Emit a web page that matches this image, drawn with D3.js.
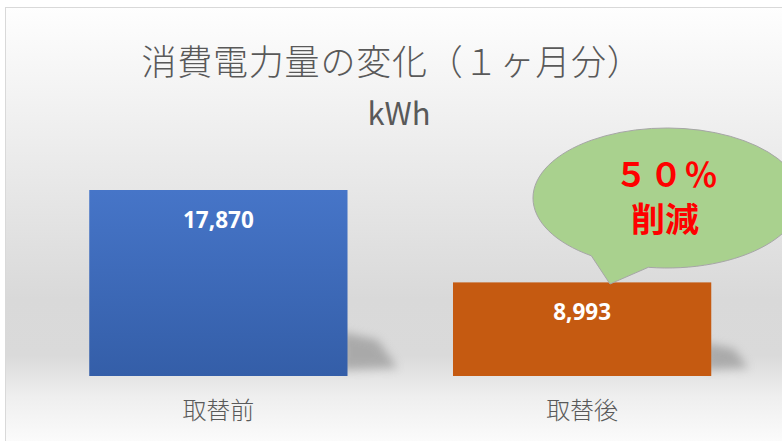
<!DOCTYPE html>
<html><head><meta charset="utf-8">
<script src="https://cdn.jsdelivr.net/npm/d3@7"></script>
<style>html,body{margin:0;padding:0;background:#fff;overflow:hidden}</style>
</head><body><svg id="c" width="782" height="441"></svg>
<script>
const categories = ["取替前", "取替後"];
const values = [17870, 8993];
const barColorsTop = ["#4675c8", "#c55a11"];
const barColorsBottom = ["#345ea8", "#c55a11"];
const title = "消費電力量の変化（１ヶ月分）";
const unitLabel = "kWh";
const calloutLines = ["５０％", "削減"];

const W = 782, H = 441;
const svg = d3.select("#c");
const defs = svg.append("defs");
const font = "'Noto Sans CJK JP','Noto Sans',sans-serif";

// background gradient (vertical)
const bg = defs.append("linearGradient").attr("id","bg")
  .attr("gradientUnits","userSpaceOnUse").attr("x1",0).attr("y1",7).attr("x2",0).attr("y2",441);
[[7,"#fefefe"],[150,"#ececec"],[300,"#d9d9d9"],[355,"#dadada"],[395,"#eeeeee"],[441,"#fbfbfb"]]
  .forEach(([yy,c])=>bg.append("stop").attr("offset",(yy-7)/434).attr("stop-color",c));
svg.append("rect").attr("width",W).attr("height",H).attr("fill","#fff");
svg.append("rect").attr("x",5.5).attr("y",7.5).attr("width",W+20).attr("height",H+20)
  .attr("fill","url(#bg)").attr("stroke","#d9d9d9").attr("stroke-width",1);

// bar gradients
categories.forEach((c,i)=>{
  const g = defs.append("linearGradient").attr("id","bar"+i).attr("x1",0).attr("y1",0).attr("x2",0).attr("y2",1);
  g.append("stop").attr("offset","0").attr("stop-color",barColorsTop[i]);
  g.append("stop").attr("offset","1").attr("stop-color",barColorsBottom[i]);
});
defs.append("filter").attr("id","blur").attr("x","-50%").attr("y","-50%").attr("width","200%").attr("height","200%")
  .append("feGaussianBlur").attr("stdDeviation",5);

const x = d3.scaleBand().domain(categories).range([36.5, 764]).paddingInner(0.29).paddingOuter(0.145);
const y = d3.scaleLinear().domain([0, 17870]).range([376, 190]);

// title
svg.append("text").attr("x",392).attr("y",75).attr("text-anchor","middle")
  .attr("font-family",font).attr("font-weight",300).attr("font-size",35).attr("letter-spacing",0.8)
  .attr("fill","#595959").text(title);
svg.append("text").attr("x",399).attr("y",125).attr("text-anchor","middle")
  .attr("font-family",font).attr("font-weight",400).attr("font-size",31).attr("fill","#595959").text(unitLabel);

// shadows
const gBars = svg.append("g");
categories.forEach((c,i)=>{
  const x1 = x(c)+x.bandwidth(), y0 = y(0);
  const s = i === 0 ? 1 : 0.75;
  gBars.append("path")
    .attr("d",`M${x1-6},${y0-6} L${x1-6},${y0-44*s} L${x1+30*s},${y0-36*s} L${x1+50*s},${y0-8} Z`)
    .attr("fill","#8a8a8a").attr("opacity",0.6).attr("filter","url(#blur)");
});
gBars.selectAll("rect.bar").data(values).join("rect").attr("class","bar")
  .attr("x",(d,i)=>x(categories[i])).attr("width",x.bandwidth())
  .attr("y",d=>y(d)).attr("height",d=>y(0)-y(d))
  .attr("fill",(d,i)=>`url(#bar${i})`);
gBars.selectAll("text.val").data(values).join("text").attr("class","val")
  .attr("x",(d,i)=>x(categories[i])+x.bandwidth()/2).attr("y",d=>y(d)+38)
  .attr("text-anchor","middle").attr("font-family","'Open Sans','Noto Sans',sans-serif")
  .attr("font-weight",700).attr("font-size",22.5).attr("fill","#fff")
  .text(d=>d3.format(",")(d));

// axis labels
const xAxis = d3.axisBottom(x).tickSize(0).tickPadding(0);
const ax = svg.append("g").attr("transform",`translate(0,${y(0)})`).call(xAxis);
ax.select(".domain").remove();
ax.selectAll("text").attr("y",43).attr("dy",0).attr("font-family",font).attr("font-weight",300)
  .attr("font-size",24).attr("fill","#595959");

// callout
const cx = 667, cy = 198, rx = 134, ry = 70;
const a1 = Math.PI/2 + 0.60, a2 = Math.PI/2 + 0.14;
const p1 = [cx + rx*Math.cos(a1), cy + ry*Math.sin(a1)];
const p2 = [cx + rx*Math.cos(a2), cy + ry*Math.sin(a2)];
const tip = [610, 284];
const path = `M${p2[0]},${p2[1]} A${rx},${ry} 0 1 0 ${p1[0]},${p1[1]} L${tip[0]},${tip[1]} Z`;
svg.append("path").attr("d",path).attr("fill","#a9d18e").attr("stroke","#a6a6a6").attr("stroke-width",1);
svg.append("text").attr("x",667).attr("y",187).attr("text-anchor","middle")
  .attr("font-family",font).attr("font-weight",700).attr("font-size",33).attr("fill","#ff0000")
  .attr("letter-spacing",2).text(calloutLines[0]);
svg.append("text").attr("x",665).attr("y",232).attr("text-anchor","middle")
  .attr("font-family",font).attr("font-weight",700).attr("font-size",34).attr("fill","#ff0000")
  .text(calloutLines[1]);
</script></body></html>
